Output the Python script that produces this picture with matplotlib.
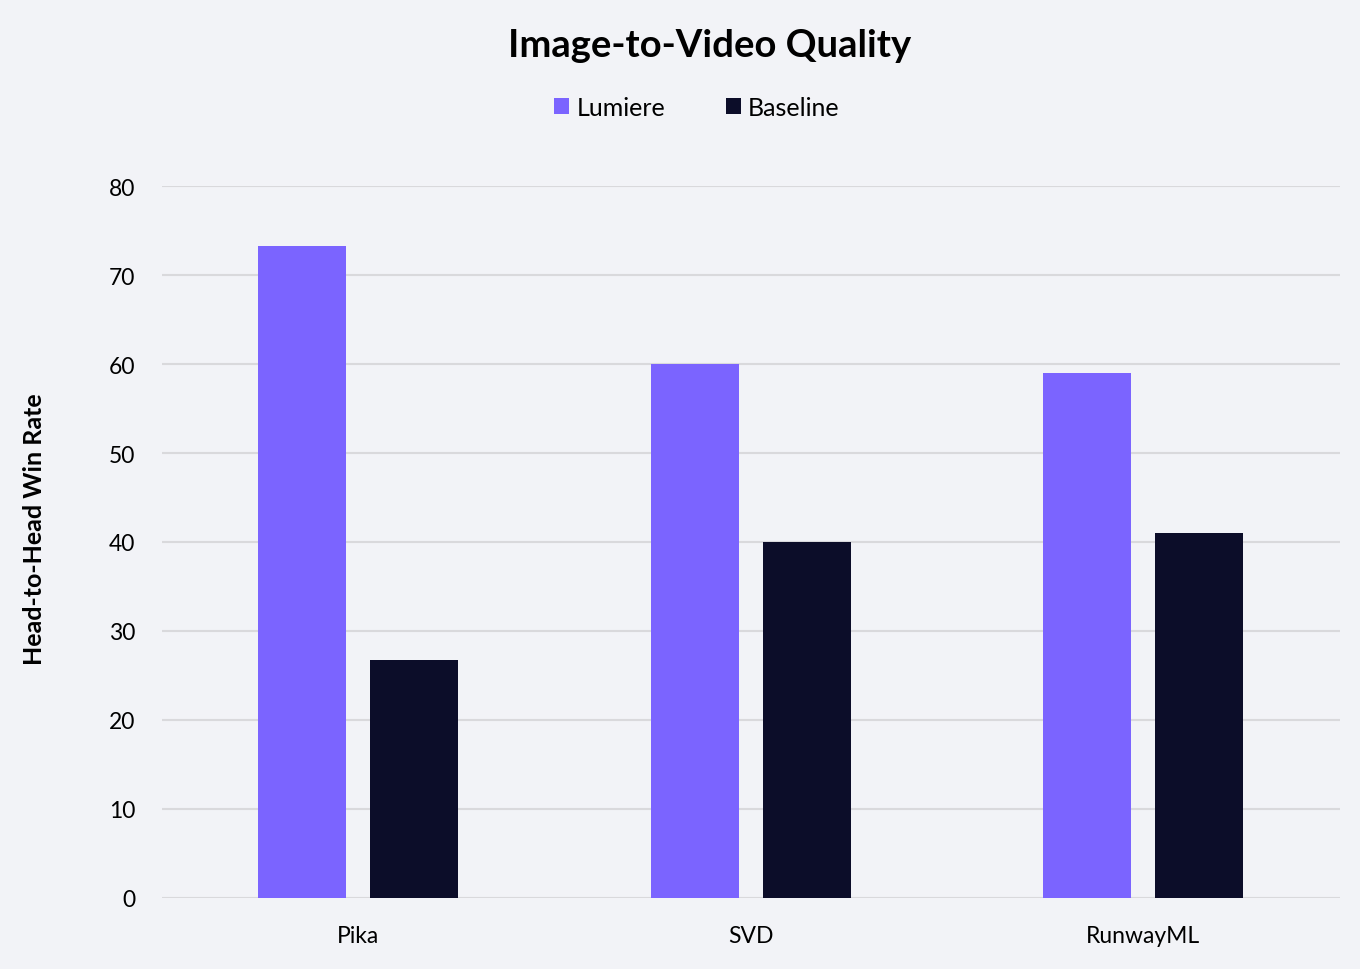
import matplotlib.pyplot as plt
import numpy as np

models = ['Pika', 'SVD', 'RunwayML']
lumiere = [73.3, 60.0, 59.0]
baseline = [26.7, 40.0, 41.0]
yticks = [0, 10, 20, 30, 40, 50, 60, 70, 80]

bg = '#f2f3f7'
purple = '#7b64ff'
dark = '#0c0d29'

plt.rcParams['font.family'] = ['Lato', 'DejaVu Sans']

fig = plt.figure(figsize=(13.6, 9.7), dpi=100, facecolor=bg)
ax = fig.add_axes([0.119, 0.0735, 0.866, 0.7335])
ax.set_facecolor(bg)

x = np.arange(len(models))
w = 0.224
off = 0.1425
ax.bar(x - off, lumiere, width=w, color=purple, label='Lumiere', zorder=3)
ax.bar(x + off, baseline, width=w, color=dark, label='Baseline', zorder=3)

ax.set_xlim(-0.5, 2.5)
ax.set_ylim(0, 80)
ax.set_yticks(yticks)
ax.set_xticks(x)
ax.set_xticklabels(models)
ax.yaxis.grid(True, color='#d9d9dc', linewidth=1.5, zorder=0)
ax.set_axisbelow(True)
for s in ax.spines.values():
    s.set_visible(False)
ax.tick_params(length=0, labelsize=16.5, colors='black')
ax.tick_params(axis='y', pad=19)
ax.tick_params(axis='x', pad=20)

ax.set_ylabel('Head-to-Head Win Rate', fontsize=18, fontweight='bold')
ax.yaxis.set_label_coords(-0.098, 0.52)

fig.text(0.522, 0.953, 'Image-to-Video Quality', ha='center', va='center',
         fontsize=27.5, fontweight='bold')

leg = fig.legend(loc='center', bbox_to_anchor=(0.5125, 0.888), ncol=2, frameon=False,
                 fontsize=18, handlelength=0.6, handleheight=0.6, handletextpad=0.3,
                 columnspacing=2.4)

fig.savefig('out.png', dpi=100, facecolor=bg)
